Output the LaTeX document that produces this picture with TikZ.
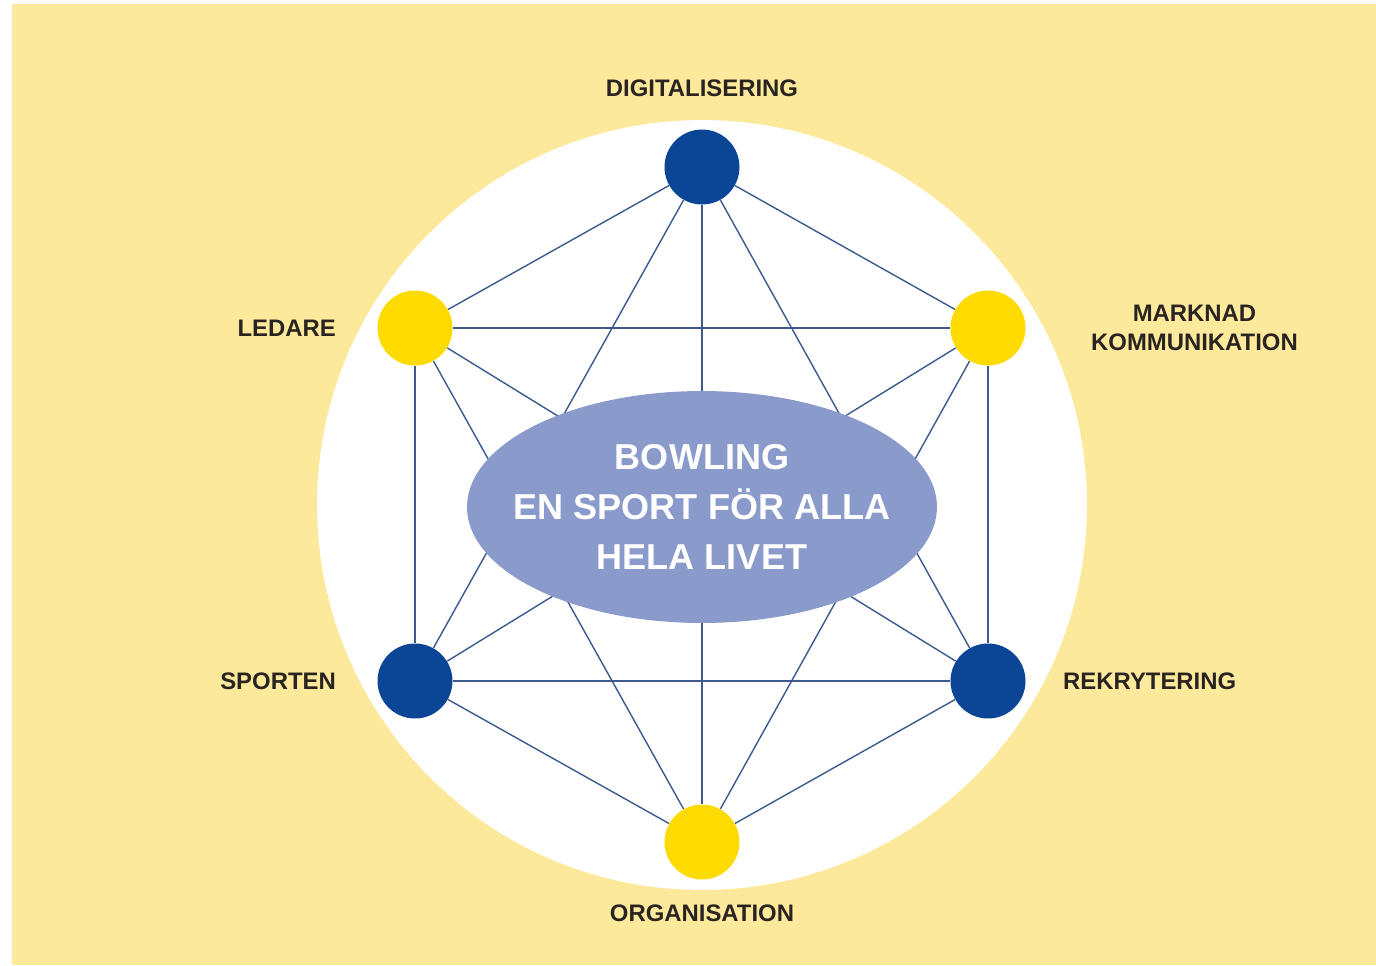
\documentclass[tikz,border=0pt]{standalone}
\usepackage{fontspec}
\setmainfont{Liberation Sans}
\usetikzlibrary{positioning,shapes.geometric}
\definecolor{bgyellow}{HTML}{FDE99B}
\definecolor{dotblue}{HTML}{0B4596}
\definecolor{dotyellow}{HTML}{FDDB00}
\definecolor{hubblue}{HTML}{8A9ACA}
\definecolor{linkblue}{HTML}{3D5A8E}
\definecolor{labeltext}{HTML}{2A2420}
\tikzset{
  dot/.style={circle,minimum size=1.5cm,inner sep=0pt},
  bluedot/.style={dot,fill=dotblue},
  yellowdot/.style={dot,fill=dotyellow},
  link/.style={draw=linkblue,line width=0.8pt},
  lbl/.style={font=\bfseries\fontsize{13.6}{16.4}\selectfont,text=labeltext,inner sep=0pt,align=center},
}
\begin{document}
\begin{tikzpicture}[x=0.02cm,y=-0.02cm]
\useasboundingbox (0,0) rectangle (1376,965);
\fill[bgyellow] (12,4) rectangle (1376,965);
\fill[white] (702,505) circle[radius=7.7cm];
% dots
\node[bluedot] (dig) at (702,167) {};
\node[yellowdot] (led) at (415,328) {};
\node[yellowdot] (mark) at (988,328) {};
\node[bluedot] (spo) at (415,681) {};
\node[bluedot] (rek) at (988,681) {};
\node[yellowdot] (org) at (702,842) {};
% every dot linked to every other
\foreach \a/\b in {dig/led,dig/mark,dig/spo,dig/rek,dig/org,
                   led/mark,led/spo,led/rek,led/org,
                   mark/spo,mark/rek,mark/org,
                   spo/rek,spo/org,rek/org}
  \draw[link] (\a) -- (\b);
\node[ellipse,fill=hubblue,minimum width=9.4cm,minimum height=4.64cm,inner xsep=-0.45cm,inner ysep=0pt,
      text=white,align=center,font=\bfseries\fontsize{20.5}{28.4}\selectfont] (hub) at (702,507)
      {BOWLING\\EN SPORT FÖR ALLA\\HELA LIVET};
% labels
\node[lbl,above=0.64cm of dig] (ldig) {DIGITALISERING};
\node[lbl,left=0.82cm of led] (lled) {LEDARE};
\node[lbl,right=1.3cm of mark] (lmark) {MARKNAD\\KOMMUNIKATION};
\node[lbl,left=0.82cm of spo] (lspo) {SPORTEN};
\node[lbl,right=0.74cm of rek] (lrek) {REKRYTERING};
\node[lbl,below=0.5cm of org] (lorg) {ORGANISATION};
\end{tikzpicture}
\end{document}
